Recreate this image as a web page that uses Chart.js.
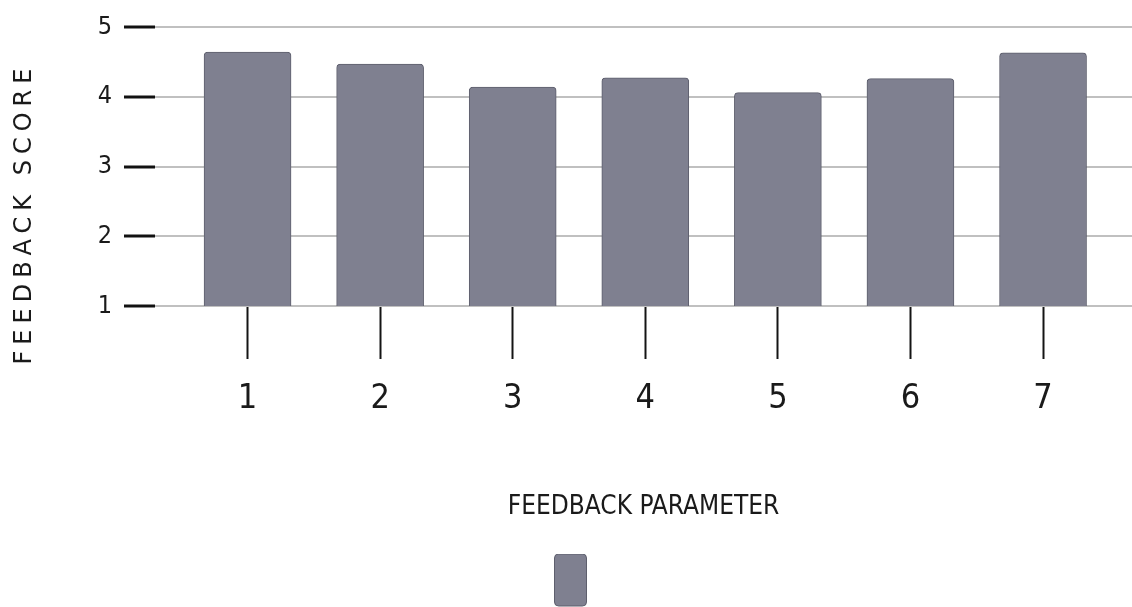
<!DOCTYPE html>
<html>
<head>
<meta charset="utf-8">
<title>Feedback score</title>
<script src="https://cdn.jsdelivr.net/npm/chart.js@4/dist/chart.umd.min.js"></script>
<style>
  html, body { margin: 0; padding: 0; background: #ffffff; }
  .chart-box { width: 1132px; height: 607px; position: relative; }
</style>
</head>
<body>
<div class="chart-box">
  <canvas id="feedbackChart"></canvas>
</div>
<script>
// values
const params = [1, 2, 3, 4, 5, 6, 7];
const scores = [4.64, 4.47, 4.14, 4.27, 4.06, 4.26, 4.63];
const scoreTicks = [1, 2, 3, 4, 5];

const barColor = '#7f8090';
const narrow = '"Liberation Sans Narrow", "DejaVu Sans Condensed", sans-serif';

// y title is letter-spaced and sits a bit lower than the plot middle
function spacedYTitle() {
  const ctx = this.ctx;
  ctx.save();
  ctx.letterSpacing = '6px';
  ctx.translate(0, 47);
  Chart.Scale.prototype.drawTitle.call(this);
  ctx.restore();
}

const yTitlePlugin = {
  id: 'yTitlePlugin',
  beforeDraw(chart) {
    chart.scales.y.drawTitle = spacedYTitle;
  }
};

const ctx = document.getElementById('feedbackChart').getContext('2d');
new Chart(ctx, {
  type: 'bar',
  data: {
    datasets: [{
      label: '',
      data: params.map((p, i) => ({ x: p, y: scores[i] })),
      backgroundColor: barColor,
      borderColor: '#5e5f6d',
      borderWidth: 1,
      borderSkipped: 'start',
      borderRadius: { topLeft: 4, topRight: 4 },
      barThickness: 87
    }]
  },
  options: {
    responsive: true,
    maintainAspectRatio: false,
    animation: false,
    layout: {
      padding: { top: 26, left: 10, right: 0, bottom: -9 }
    },
    scales: {
      x: {
        type: 'linear',
        min: 0.302,
        max: 7.671,
        offset: false,
        afterFit: (scale) => { scale.height = 248; },
        ticks: {
          stepSize: 1,
          includeBounds: false,
          color: '#1a1a1a',
          padding: 20,
          font: { family: narrow, size: 34 }
        },
        grid: {
          offset: false,
          drawOnChartArea: false,
          drawTicks: true,
          tickLength: 53,
          tickWidth: 2,
          tickColor: '#141414'
        },
        border: { display: false },
        title: {
          display: true,
          text: 'FEEDBACK PARAMETER',
          color: '#1a1a1a',
          font: { family: narrow, size: 26 },
          padding: { top: 0, bottom: 31 }
        }
      },
      y: {
        min: 1,
        max: 5,
        afterFit: (scale) => { scale.width = 145; },
        afterBuildTicks: (scale) => {
          scale.ticks = scoreTicks.map(v => ({ value: v }));
        },
        ticks: {
          color: '#1a1a1a',
          padding: 12,
          font: { family: narrow, size: 25 }
        },
        grid: {
          color: '#c0c0c0',
          lineWidth: 2,
          tickLength: 31,
          tickWidth: 3,
          tickColor: '#111111'
        },
        border: { display: false },
        title: {
          display: true,
          text: 'FEEDBACK SCORE',
          color: '#1a1a1a',
          font: { family: '"DejaVu Sans", sans-serif', size: 24 },
          padding: 0
        }
      }
    },
    plugins: {
      legend: {
        display: true,
        position: 'bottom',
        labels: {
          boxWidth: 32,
          boxHeight: 52,
          padding: 0,
          useBorderRadius: true,
          borderRadius: 4,
          font: { size: 2 }
        }
      },
      tooltip: { enabled: false }
    }
  },
  plugins: [yTitlePlugin]
});
</script>
</body>
</html>
